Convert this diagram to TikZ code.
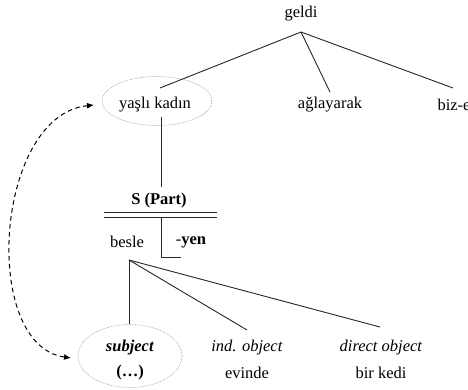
\documentclass[tikz,border=0pt]{standalone}
\usepackage{fontspec}
\setmainfont{Liberation Serif}
\usetikzlibrary{shapes.geometric,arrows.meta}
\begin{document}
\begin{tikzpicture}[x=1pt,y=-1pt,
  lbl/.style={inner sep=0pt,anchor=center,font=\fontsize{16.5}{18}\selectfont},
  edge/.style={line width=0.9pt,draw=black!85},
  ring/.style={ellipse,draw=black!45,densely dotted,line width=0.6pt,inner sep=0pt},
  link/.style={dashed,dash pattern=on 4.5pt off 3.5pt,line width=1pt,{Latex[length=7pt,width=6pt]}-{Latex[length=7pt,width=6pt]}}]
\useasboundingbox (0,0) rectangle (468,390);
% top level
\node[lbl] (geldi) at (301,14) {geldi};
\coordinate (gtop) at (301,32);
\node[ring,minimum width=110pt,minimum height=49pt] (ykring) at (157,101) {};
\node[lbl] (yk) at (155,105) {yaşlı kadın};
\node[lbl] (ag) at (330,105) {ağlayarak};
\node[lbl] (bize) at (454,105) {biz-e};
\coordinate (yktop) at (160,88);
\coordinate (agtop) at (330,92);
\coordinate (bizetop) at (453,88);
\draw[edge] (gtop) -- (yktop);
\draw[edge] (gtop) -- (agtop);
\draw[edge] (gtop) -- (bizetop);
% relative clause
\coordinate (ykbot) at (161,117);
\coordinate (sptop) at (161,187);
\draw[edge] (ykbot) -- (sptop);
\node[lbl] (sp) at (159,201) {\textbf{S (Part)}};
\coordinate (dl1) at (104,212);
\coordinate (dr1) at (217,212);
\coordinate (dl2) at (104,217);
\coordinate (dr2) at (217,217);
\draw[edge] (dl1) -- (dr1);
\draw[edge] (dl2) -- (dr2);
\coordinate (vtop) at (161,217);
\coordinate (vbot) at (161,257);
\coordinate (vend) at (181,257);
\draw[edge] (vtop) -- (vbot) -- (vend);
\node[lbl] (besle) at (127,242) {besle};
\node[lbl] (yen) at (191,242) {-\textbf{yen}};
\coordinate (bsbot) at (129,260);
% arguments
\node[ring,minimum width=104pt,minimum height=63pt] (subjring) at (130,356) {};
\node[lbl] (subj) at (130,348) {\textbf{\textit{subject}}};
\node[lbl] (subjdots) at (130,373) {\textbf{(…)}};
\node[lbl] (ind) at (247,348) {\textit{ind. object}};
\node[lbl] (evinde) at (247,373) {evinde};
\node[lbl] (dir) at (381,348) {\textit{direct object}};
\node[lbl] (kedi) at (381,373) {bir kedi};
\coordinate (subjtop) at (129,324);
\coordinate (indtop) at (247,330);
\coordinate (dirtop) at (380,327);
\draw[edge] (bsbot) -- (subjtop);
\draw[edge] (bsbot) -- (indtop);
\draw[edge] (bsbot) -- (dirtop);
% coreference
\coordinate (ca) at (94,105);
\coordinate (cb) at (71,358);
\draw[link] (ca) .. controls (-5,115) and (-20,345) .. (cb);
\end{tikzpicture}
\end{document}
